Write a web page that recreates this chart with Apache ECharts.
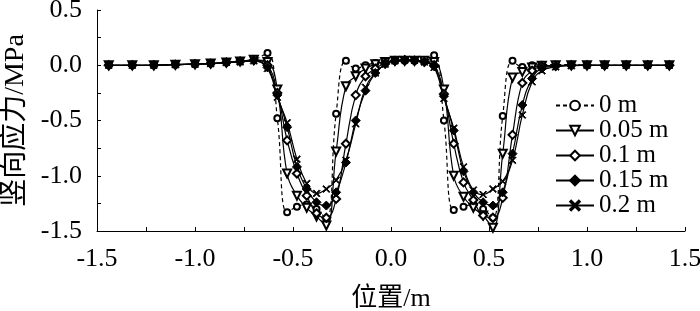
<!DOCTYPE html>
<html>
<head>
<meta charset="utf-8">
<script src="https://cdn.jsdelivr.net/npm/echarts@6/dist/echarts.min.js"></script>
<style>
  html, body { margin: 0; padding: 0; background: #fff; }
  #chart { width: 700px; height: 311px; }
</style>
</head>
<body>
<div id="chart"></div>
<script>
// node positions along the section (m)
const positions = [-1.44, -1.32, -1.21, -1.10, -1.00, -0.92, -0.84, -0.77, -0.70,
  -0.63, -0.58, -0.53, -0.48, -0.43, -0.38, -0.33, -0.28, -0.23, -0.18, -0.13, -0.08,
  -0.03, 0.02, 0.07, 0.12, 0.17,
  0.22, 0.27, 0.32, 0.37, 0.42, 0.47, 0.52, 0.57, 0.62, 0.67, 0.72,
  0.77, 0.84, 0.92, 1.00, 1.09, 1.20, 1.31, 1.42];

const seriesNames = ['0 m', '0.05 m', '0.1 m', '0.15 m', '0.2 m'];

// vertical stress (MPa)
const stress0 = [0, 0, 0, 0.005, 0.01, 0.015, 0.025, 0.035, 0.05,
  0.11, -0.48, -1.33, -1.28, -1.26, -1.30, -1.39, -0.44, 0.04, -0.03, 0.00, 0.02,
  0.03, 0.04, 0.04, 0.04, 0.04,
  0.09, -0.50, -1.31, -1.28, -1.26, -1.30, -1.38, -0.46, 0.04, -0.015, 0.0,
  0.005, 0.005, 0.005, 0, 0, 0, 0, 0];
const stress005 = [0, 0, 0, 0.005, 0.01, 0.015, 0.025, 0.035, 0.05,
  0.03, -0.22, -0.98, -1.18, -1.29, -1.37, -1.45, -0.78, -0.19, -0.10, -0.03, 0.01,
  0.03, 0.04, 0.04, 0.04, 0.04,
  0.03, -0.22, -1.00, -1.19, -1.29, -1.36, -1.47, -0.80, -0.11, -0.06, -0.02,
  -0.005, 0, 0, 0, 0, 0, 0, 0];
const stress01 = [0, 0, 0, 0.005, 0.01, 0.015, 0.025, 0.035, 0.045,
  0.0, -0.25, -0.68, -0.98, -1.18, -1.34, -1.38, -1.21, -0.71, -0.27, -0.10, -0.03,
  0.02, 0.04, 0.045, 0.04, 0.03,
  0.0, -0.26, -0.71, -1.06, -1.22, -1.36, -1.38, -1.20, -0.63, -0.16, -0.05,
  -0.01, -0.005, 0, 0, 0, 0, 0, 0];
const stress015 = [0, 0, 0, 0.005, 0.01, 0.015, 0.025, 0.035, 0.045,
  -0.02, -0.27, -0.56, -0.92, -1.12, -1.24, -1.27, -1.15, -0.88, -0.50, -0.23, -0.07,
  0.01, 0.04, 0.05, 0.045, 0.03,
  -0.01, -0.28, -0.59, -0.96, -1.15, -1.24, -1.27, -1.15, -0.80, -0.36, -0.12,
  -0.03, -0.01, 0, 0, 0, 0, 0, 0];
const stress02 = [0, 0, 0, 0.005, 0.01, 0.015, 0.025, 0.03, 0.04,
  -0.03, -0.29, -0.52, -0.85, -1.07, -1.16, -1.12, -1.04, -0.86, -0.53, -0.20, -0.07,
  0.01, 0.04, 0.05, 0.045, 0.03,
  -0.02, -0.30, -0.57, -0.92, -1.13, -1.17, -1.12, -1.05, -0.86, -0.45, -0.15,
  -0.05, -0.015, -0.005, 0, 0, 0, 0, 0];

const xTicks = { min: -1.5, max: 1.5, step: 0.5 };
const yTicks = { min: -1.5, max: 0.5, step: 0.5 };

const font = "'Liberation Serif', 'Noto Sans CJK SC', serif";
const crossPath = 'path://M0,1L1,0L5,4L9,0L10,1L6,5L10,9L9,10L5,6L1,10L0,9L4,5Z';

const pairs = ys => positions.map((x, i) => [x, ys[i]]);

function makeSeries(name, ys, symbol, size, opts) {
  return Object.assign({
    name: name,
    type: 'line',
    smooth: 0.45,
    data: pairs(ys),
    symbol: symbol,
    symbolSize: size,
    showAllSymbol: true,
    lineStyle: { color: '#000', width: 1.2 },
    itemStyle: { color: '#000', borderColor: '#000', borderWidth: 1 }
  }, opts || {});
}

const chart = echarts.init(document.getElementById('chart'));
chart.setOption({
  animation: false,
  backgroundColor: '#fff',
  textStyle: { fontFamily: font, color: '#000' },
  grid: { left: 97, right: 15, top: 10, bottom: 80, outerBoundsMode: 'none', containLabel: false },
  legend: {
    left: 550,
    top: 88,
    orient: 'vertical',
    itemWidth: 38,
    itemHeight: 12,
    itemGap: 0,
    data: seriesNames,
    textStyle: { fontFamily: font, fontSize: 25, color: '#000' }
  },
  xAxis: {
    type: 'value',
    min: xTicks.min,
    max: xTicks.max,
    interval: xTicks.step,
    name: '位置/m',
    nameLocation: 'middle',
    nameGap: 55,
    nameTextStyle: { fontFamily: font, fontSize: 26, color: '#000' },
    axisLine: { onZero: false, lineStyle: { color: '#000', width: 1 } },
    axisTick: { inside: true, length: 4, lineStyle: { color: '#000' } },
    minorTick: { show: true, splitNumber: 2, length: 4, lineStyle: { color: '#000' } },
    axisLabel: { fontFamily: font, fontSize: 26, color: '#000', margin: 15,
      formatter: v => v.toFixed(1) },
    splitLine: { show: false }
  },
  yAxis: {
    type: 'value',
    min: yTicks.min,
    max: yTicks.max,
    interval: yTicks.step,
    name: '竖向应力/MPa',
    nameLocation: 'middle',
    nameGap: 58,
    nameTextStyle: { fontFamily: font, fontSize: 28, color: '#000' },
    axisLine: { show: true, onZero: false, lineStyle: { color: '#000', width: 1 } },
    axisTick: { inside: true, length: 4, lineStyle: { color: '#000' } },
    minorTick: { show: true, splitNumber: 2, length: 4, lineStyle: { color: '#000' } },
    axisLabel: { fontFamily: font, fontSize: 26, color: '#000', margin: 15,
      formatter: v => v.toFixed(1) },
    splitLine: { show: false }
  },
  series: [
    makeSeries(seriesNames[0], stress0, 'emptyCircle', 6,
      { lineStyle: { color: '#000', width: 1.2, type: [4, 3] } }),
    makeSeries(seriesNames[1], stress005, 'emptyTriangle', 8, { symbolRotate: 180 }),
    makeSeries(seriesNames[2], stress01, 'emptyDiamond', 8),
    makeSeries(seriesNames[3], stress015, 'diamond', 9),
    makeSeries(seriesNames[4], stress02, crossPath, 7)
  ]
});
</script>
</body>
</html>
